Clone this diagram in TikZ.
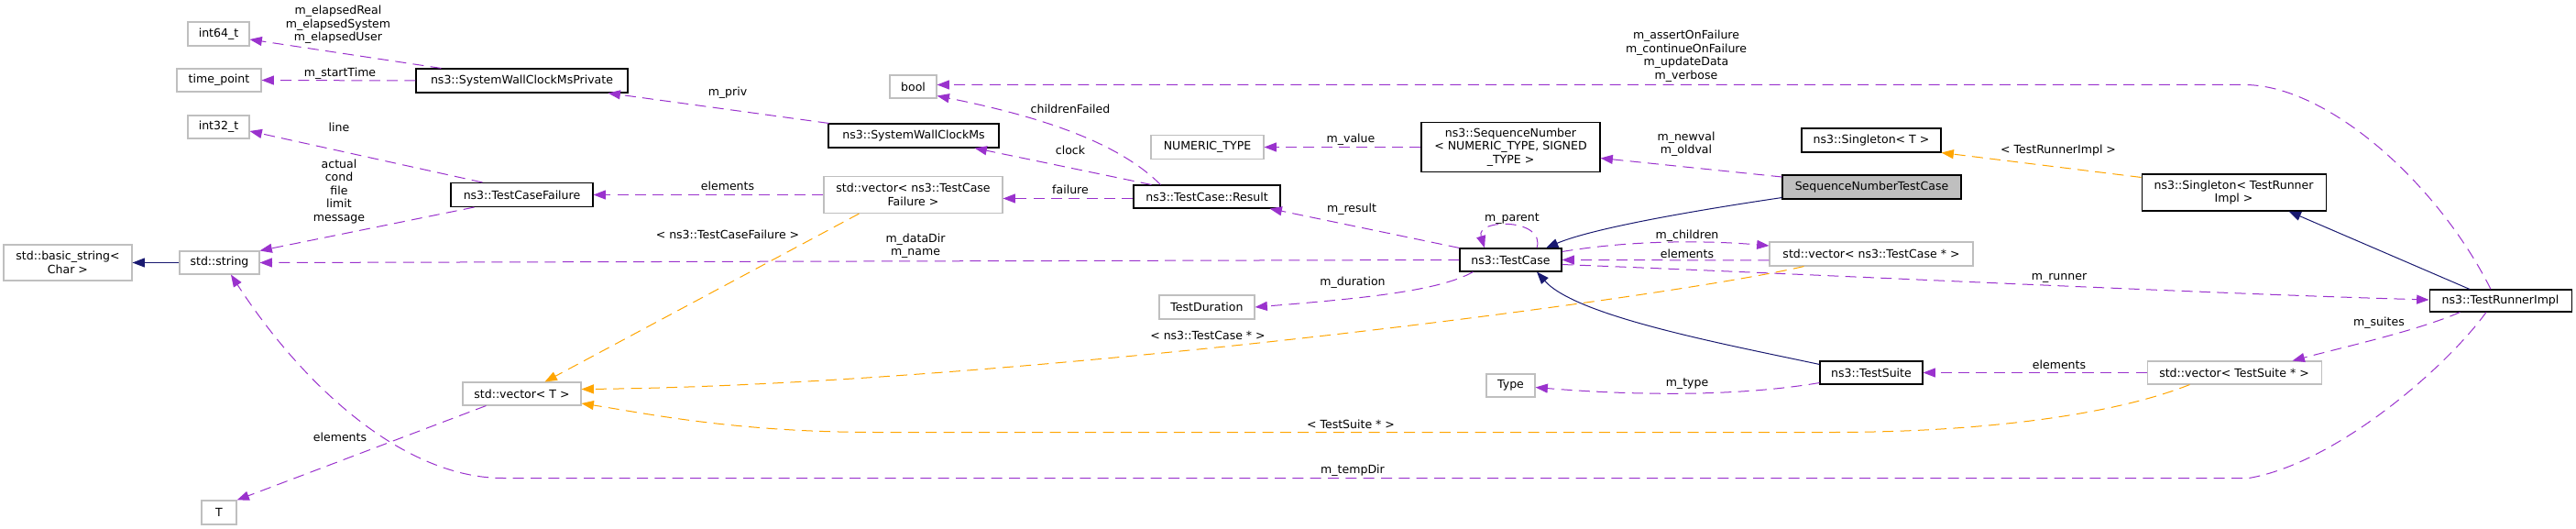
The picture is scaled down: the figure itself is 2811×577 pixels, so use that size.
\documentclass[tikz,border=0pt]{standalone}
\usepackage{fontspec}
\setmainfont{DejaVu Sans}
\usetikzlibrary{arrows.meta}

\definecolor{memcol}{HTML}{9A32CD}
\definecolor{tplcol}{HTML}{FFA500}
\definecolor{inhcol}{HTML}{191970}
\definecolor{boxgray}{HTML}{BFBFBF}

\tikzset{
  sz/.style 2 args={minimum width=#1*0.75pt, minimum height=#2*0.75pt},
  cls/.style={draw=black, line width=0.8pt, fill=white},
  ext/.style={draw=boxgray, line width=0.8pt, fill=white},
  lbl/.style={},
  tip/.style={-{Triangle[length=10pt, width=7.5pt]}},
  mem/.style={draw=memcol, line width=0.75pt, dash pattern=on 9pt off 5.5pt, tip},
  tpl/.style={draw=tplcol, line width=0.75pt, dash pattern=on 9pt off 5.5pt, tip},
  inh/.style={draw=inhcol, line width=0.75pt, tip}
}

\begin{document}
\begin{tikzpicture}[x=0.75pt, y=-0.75pt,
    every node/.style={font=\fontsize{9.4}{10.9}\selectfont, inner sep=0pt, align=center}]
  \useasboundingbox (0,0) rectangle (2811,577);

  \node[ext, sz={140}{39}] (bstring) at (74,286.5) {std::basic\_string<\\Char >};
  \node[ext, sz={87}{25}] (stdstring) at (239.5,286.5) {std::string};
  \node[ext, sz={67}{26}] (int64) at (238.5,37) {int64\_t};
  \node[ext, sz={92}{25}] (tpoint) at (239,87.5) {time\_point};
  \node[ext, sz={67}{25}] (int32) at (238.5,138.5) {int32\_t};
  \node[ext, sz={38}{26}] (tee) at (239,559) {T};
  \node[cls, sz={231}{26}] (swcmp) at (569.5,88) {ns3::SystemWallClockMsPrivate};
  \node[cls, sz={155}{26}] (tcf) at (569.5,212.5) {ns3::TestCaseFailure};
  \node[ext, sz={129}{25}] (vect) at (569.5,429.5) {std::vector< T >};
  \node[ext, sz={51}{25}] (boolt) at (996.5,94.5) {bool};
  \node[cls, sz={186}{26}] (swcm) at (997,148) {ns3::SystemWallClockMs};
  \node[ext, sz={195}{40}] (vtcf) at (996.5,212.5) {std::vector< ns3::TestCase\\Failure >};
  \node[cls, sz={160}{25}] (result) at (1317,214.5) {ns3::TestCase::Result};
  \node[ext, sz={123}{26}] (numtype) at (1317.5,160.5) {NUMERIC\_TYPE};
  \node[ext, sz={104}{26}] (tdur) at (1317,335) {TestDuration};
  \node[cls, sz={195}{54}] (seqnum) at (1648.5,160.5) {ns3::SequenceNumber\hfill\\< NUMERIC\_TYPE, SIGNED\\\_TYPE >};
  \node[cls, sz={111}{25}] (tcase) at (1648.5,283.5) {ns3::TestCase};
  \node[ext, sz={53}{25}] (type) at (1648.5,420.5) {Type};
  \node[cls, fill=boxgray, sz={195}{26}] (sntc) at (2042.5,204) {SequenceNumberTestCase};
  \node[cls, sz={152}{26}] (singt) at (2042,153) {ns3::Singleton< T >};
  \node[ext, sz={222}{26}] (vtc) at (2042,277) {std::vector< ns3::TestCase * >};
  \node[cls, sz={112}{25}] (tsuite) at (2042,406.5) {ns3::TestSuite};
  \node[cls, sz={201}{40}] (singtri) at (2437.5,210) {ns3::Singleton< TestRunner\\Impl >};
  \node[ext, sz={190}{25}] (vts) at (2438,406.5) {std::vector< TestSuite * >};
  \node[cls, sz={155}{24}] (tri) at (2728.5,328) {ns3::TestRunnerImpl};

  \draw[mem] ([shift={(28,0)}]swcmp.north west) -- ([shift={(0,6)}]int64.east);
  \draw[mem] (swcmp.west) -- (tpoint.east);
  \draw[mem] ([shift={(1,0)}]swcm.north west) -- ([shift={(-22,0)}]swcmp.south east);
  \draw[mem] ([shift={(35,0)}]tcf.north west) -- ([shift={(0,4.5)}]int32.east);
  \draw[mem] ([shift={(26,0)}]tcf.south west) -- (stdstring.north east);
  \draw[inh] (stdstring.west) -- (bstring.east);
  \draw[mem] (vtcf.west) -- (tcf.east);
  \draw[mem] ([shift={(0,2)}]result.west) -- ([shift={(0,4)}]vtcf.east);
  \draw[mem] ([shift={(20,0)}]result.north west) -- ([shift={(-27,0)}]swcm.south east);
  \draw[mem] ([shift={(30,0)}]result.north west) .. controls (1225,160) and (1150,130) .. ([shift={(0,-3)}]boolt.south east);
  \draw[mem] (tcase.north west) -- ([shift={(-12,0)}]result.south east);
  \draw[mem] (tcase.west) -- (stdstring.east);
  \draw[mem] ([shift={(15,0)}]tcase.south west) .. controls (1570,318) and (1480,326) .. (tdur.east);
  \draw[mem] ([shift={(28.5,0)}]tcase.north) .. controls (1687,238) and (1610,238) .. ([shift={(-28.5,0)}]tcase.north);
  \draw[mem] ([shift={(0,-9)}]tcase.east) .. controls (1780,262) and (1860,262) .. ([shift={(0,-9)}]vtc.west);
  \draw[mem] ([shift={(0,7)}]vtc.west) -- (tcase.east);
  \draw[mem] ([shift={(0,5)}]tcase.east) .. controls (2000,300) and (2400,320) .. ([shift={(0,-1)}]tri.west);
  \draw[inh] ([shift={(0,-2)}]sntc.south west) .. controls (1860,228) and (1740,248) .. ([shift={(38.5,0)}]tcase.north);
  \draw[mem] ([shift={(0,-11)}]sntc.west) -- ([shift={(0,12)}]seqnum.east);
  \draw[mem] (seqnum.west) -- (numtype.east);
  \draw[inh] ([shift={(0,4)}]tsuite.north west) .. controls (1880,375) and (1720,345) .. ([shift={(28.5,0)}]tcase.south);
  \draw[mem] ([shift={(0,-2)}]tsuite.south west) .. controls (1900,432) and (1790,432) .. ([shift={(0,2)}]type.east);
  \draw[mem] (vts.west) -- (tsuite.east);
  \draw[mem] ([shift={(34,0)}]tri.south west) .. controls (2640,360) and (2560,378) .. ([shift={(-32,0)}]vts.north east);
  \draw[mem] ([shift={(-15.5,0)}]tri.south) .. controls (2670,400) and (2550,505) .. (2454,521.5)
    -- (549,521.5) .. controls (440,521.5) and (330,420) .. ([shift={(12.5,0)}]stdstring.south);
  \draw[mem] ([shift={(-10.5,0)}]tri.north) .. controls (2660,200) and (2540,92.5) .. (2449,92.5)
    -- ([shift={(0,-2)}]boolt.east);
  \draw[inh] ([shift={(-33.5,0)}]tri.north) -- ([shift={(-41,0)}]singtri.south east);
  \draw[tpl] ([shift={(0,4)}]singtri.north west) -- (singt.south east);
  \draw[tpl] ([shift={(39,0)}]vtcf.south west) -- ([shift={(25,0)}]vect.north);
  \draw[tpl] ([shift={(38,0)}]vtc.south west) .. controls (1820,325) and (1100,420) .. ([shift={(0,-5)}]vect.east);
  \draw[tpl] ([shift={(47,0)}]vts.south west) .. controls (2300,455) and (2150,471.5) .. (2000,471.5)
    -- (956,471.5) .. controls (800,471.5) and (700,450) .. ([shift={(0,10.5)}]vect.east);
  \draw[mem] ([shift={(26,0)}]vect.south west) -- (tee.north east);

  \node[lbl] (lelapsed) at (369,27) {m\_elapsedReal\\m\_elapsedSystem\\m\_elapsedUser};
  \node[lbl] (lstart) at (371,80) {m\_startTime};
  \node[lbl] (lpriv) at (794,101) {m\_priv};
  \node[lbl] (lline) at (370,139) {line};
  \node[lbl] (lfail) at (370,209) {actual\\cond\\file\\limit\\message};
  \node[lbl] (lelemtcf) at (794,203) {elements};
  \node[lbl] (lfailure) at (1168,207) {failure};
  \node[lbl] (lclock) at (1168,164) {clock};
  \node[lbl] (lchild) at (1168,119) {childrenFailed};
  \node[lbl] (lresult) at (1475,228) {m\_result};
  \node[lbl] (ldata) at (999,268) {m\_dataDir\\m\_name};
  \node[lbl] (ldur) at (1476,308) {m\_duration};
  \node[lbl] (lparent) at (1650,239) {m\_parent};
  \node[lbl] (lchildren) at (1841,257) {m\_children};
  \node[lbl] (lelemtc) at (1841,277) {elements};
  \node[lbl] (lrunner) at (2247,303) {m\_runner};
  \node[lbl] (lnew) at (1840,157) {m\_newval\\m\_oldval};
  \node[lbl] (lvalue) at (1474,152) {m\_value};
  \node[lbl] (ltype) at (1841,419) {m\_type};
  \node[lbl] (lelemts) at (2247,398) {elements};
  \node[lbl] (lsuites) at (2596,352) {m\_suites};
  \node[lbl] (ltemp) at (1476,513) {m\_tempDir};
  \node[lbl] (lassert) at (1840,61) {m\_assertOnFailure\\m\_continueOnFailure\\m\_updateData\\m\_verbose};
  \node[lbl] (ltri) at (2246,164) {< TestRunnerImpl >};
  \node[lbl] (ltcf) at (794,256) {< ns3::TestCaseFailure >};
  \node[lbl] (ltc) at (1318,366) {< ns3::TestCase * >};
  \node[lbl] (lts) at (1474,463) {< TestSuite * >};
  \node[lbl] (lelemt) at (371,477) {elements};
\end{tikzpicture}
\end{document}
